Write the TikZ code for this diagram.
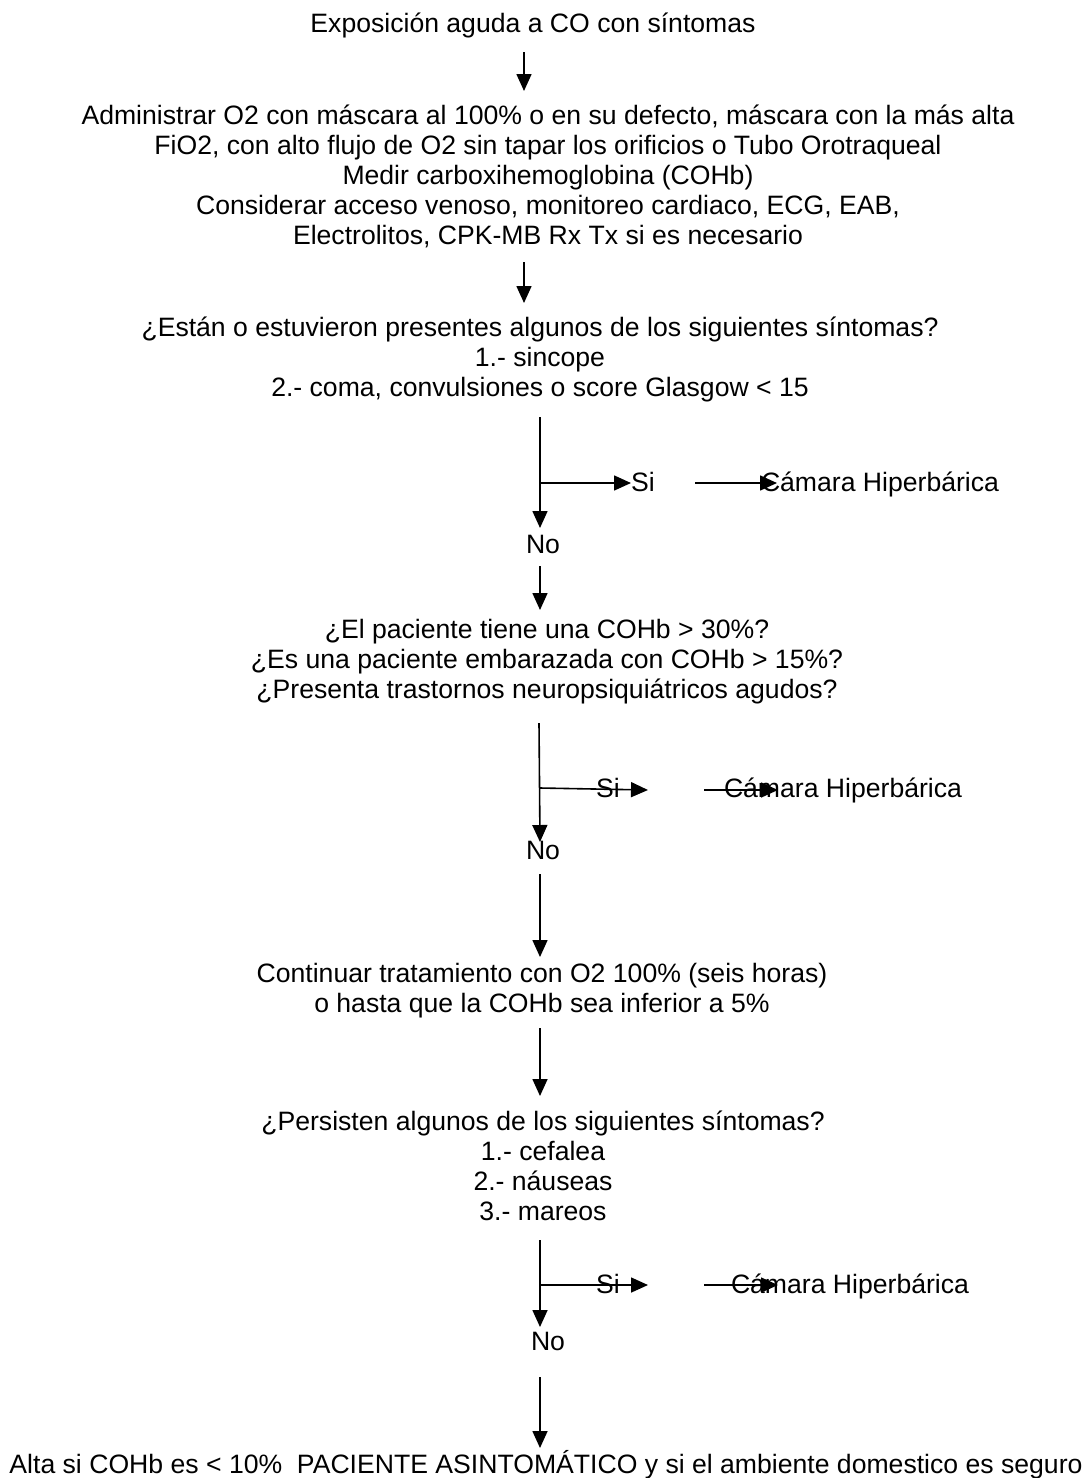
\documentclass[tikz,border=0pt]{standalone}
\usepackage{fontspec}
\setmainfont{Liberation Sans}
\usetikzlibrary{arrows.meta}
\newcommand\flowfont{\fontsize{13.3pt}{15pt}\selectfont\lineskiplimit=-20pt\relax}
\begin{document}
\begin{tikzpicture}[x=0.5pt, y=-0.5pt,
  every node/.style={font=\flowfont, inner sep=0pt, align=center},
  lbl/.style={anchor=base},
  block/.style={anchor=north},
  flow/.style={-{Triangle[width=7.5pt,length=8.5pt]}, line width=0.8pt}]
  \useasboundingbox (0,0) rectangle (1091,1478);
  % text blocks
  \node[lbl] (expo) at (533,32) {Exposición aguda a CO con síntomas};
  \node[block] (admin) at (548,104.5) {Administrar O2 con máscara al 100\% o en su defecto, máscara con la más alta\\ FiO2, con alto flujo de O2 sin tapar los orificios o Tubo Orotraqueal\\ Medir carboxihemoglobina (COHb)\\ Considerar acceso venoso, monitoreo cardiaco, ECG, EAB,\\ Electrolitos, CPK-MB Rx Tx si es necesario};
  \node[block] (sinto) at (540,317) {¿Están o estuvieron presentes algunos de los siguientes síntomas?\\ 1.- sincope\\ 2.- coma, convulsiones o score Glasgow < 15};
  \node[lbl] (si1) at (643,491) {Si};
  \node[lbl] (cam1) at (880,491) {Cámara Hiperbárica};
  \node[lbl] (no1) at (543,553) {No};
  \node[block] (crit) at (547,619) {¿El paciente tiene una COHb > 30\%?\\ ¿Es una paciente embarazada con COHb > 15\%?\\ ¿Presenta trastornos neuropsiquiátricos agudos?};
  \node[lbl] (si2) at (608,797) {Si};
  \node[lbl] (cam2) at (843,797) {Cámara Hiperbárica};
  \node[lbl] (no2) at (543,859) {No};
  \node[block] (cont) at (542,963) {Continuar tratamiento con O2 100\% (seis horas)\\ o hasta que la COHb sea inferior a 5\%};
  \node[block] (pers) at (543,1110) {¿Persisten algunos de los siguientes síntomas?\\ 1.- cefalea\\ 2.- náuseas\\ 3.- mareos};
  \node[lbl] (si3) at (608,1293) {Si};
  \node[lbl] (cam3) at (850,1293) {Cámara Hiperbárica};
  \node[lbl] (no3) at (548,1350) {No};
  \node[lbl] (alta) at (546,1473) {Alta si COHb es < 10\%~~PACIENTE ASINTOMÁTICO y si el ambiente domestico es seguro};
  % arrow ends
  \coordinate (a1s) at (524,52);   \coordinate (a1e) at (524,91);
  \coordinate (a2s) at (524,262);  \coordinate (a2e) at (524,303);
  \coordinate (v1s) at (540,417);  \coordinate (v1e) at (540,528);
  \coordinate (b1) at (540,483);   \coordinate (h1e) at (631,483);
  \coordinate (h1s) at (695,483);  \coordinate (h1f) at (777,483);
  \coordinate (a3s) at (540,566);  \coordinate (a3e) at (540,610);
  \coordinate (v2s) at (539,723);  \coordinate (v2e) at (540,842);
  \coordinate (b2) at (540,788);   \coordinate (h2e) at (648,790);
  \coordinate (h2s) at (704,790);  \coordinate (h2f) at (778,790);
  \coordinate (a4s) at (540,874);  \coordinate (a4e) at (540,957);
  \coordinate (a5s) at (540,1028); \coordinate (a5e) at (540,1096);
  \coordinate (v3s) at (540,1240); \coordinate (v3e) at (540,1327);
  \coordinate (b3) at (540,1285);  \coordinate (h3e) at (648,1285);
  \coordinate (h3s) at (704,1285); \coordinate (h3f) at (778,1285);
  \coordinate (a6s) at (540,1377); \coordinate (a6e) at (540,1448);
  % connectors
  \draw[flow] (a1s) -- (a1e);
  \draw[flow] (a2s) -- (a2e);
  \draw[flow] (v1s) -- (v1e); \draw[flow] (b1) -- (h1e); \draw[flow] (h1s) -- (h1f);
  \draw[flow] (a3s) -- (a3e);
  \draw[flow] (v2s) -- (v2e); \draw[flow] (b2) -- (h2e); \draw[flow] (h2s) -- (h2f);
  \draw[flow] (a4s) -- (a4e);
  \draw[flow] (a5s) -- (a5e);
  \draw[flow] (v3s) -- (v3e); \draw[flow] (b3) -- (h3e); \draw[flow] (h3s) -- (h3f);
  \draw[flow] (a6s) -- (a6e);
\end{tikzpicture}
\end{document}
